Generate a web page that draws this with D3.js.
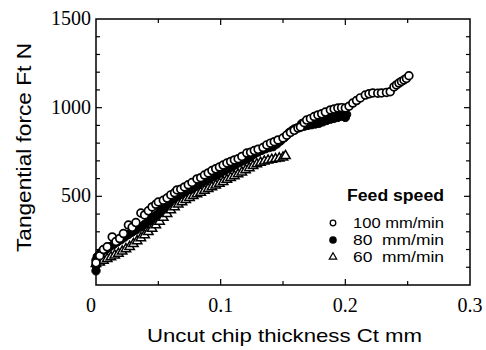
<!DOCTYPE html>
<html><head><meta charset="utf-8">
<script src="https://cdn.jsdelivr.net/npm/d3@7"></script>
<style>body{margin:0;background:#fff}svg{display:block}.serif{font-family:"Liberation Serif","Times New Roman",serif}</style>
</head><body>
<svg id="c" width="486" height="350"></svg>
<script>
// Series: 100 mm/min (open circles)
const x100 = [0.000,0.003,0.006,0.009,0.013,0.016,0.019,0.022,0.026,0.029,0.032,0.036,0.039,0.042,0.045,0.048,0.050,0.054,0.057,0.060,0.063,0.065,0.068,0.071,0.074,0.077,0.081,0.084,0.087,0.090,0.093,0.096,0.099,0.102,0.105,0.108,0.111,0.114,0.117,0.121,0.124,0.127,0.130,0.134,0.137,0.140,0.143,0.146,0.150,0.153,0.156,0.159,0.162,0.164,0.167,0.169,0.172,0.175,0.178,0.181,0.184,0.188,0.191,0.194,0.197,0.200,0.203,0.206,0.209,0.212,0.216,0.219,0.222,0.226,0.229,0.233,0.236,0.239,0.241,0.243,0.245,0.247,0.249,0.251];
const y100 = [125,165,200,215,271,245,262,290,338,325,352,406,395,418,440,455,468,478,490,508,520,536,540,553,565,578,598,605,620,632,645,655,665,676,688,696,705,712,725,744,748,758,765,775,790,800,808,818,829,845,860,872,885,891,915,930,938,950,959,965,975,987,992,998,1000,998,1008,1026,1040,1055,1071,1078,1083,1082,1083,1086,1090,1117,1128,1139,1148,1156,1165,1180];
// Series: 80 mm/min (filled circles)
const x80 = [0.000,0.000,0.000,0.001,0.003,0.005,0.008,0.011,0.014,0.017,0.020,0.023,0.026,0.029,0.032,0.036,0.039,0.042,0.045,0.048,0.051,0.054,0.057,0.060,0.063,0.066,0.069,0.072,0.076,0.079,0.082,0.085,0.088,0.091,0.094,0.097,0.100,0.103,0.106,0.109,0.112,0.115,0.118,0.121,0.124,0.127,0.130,0.133,0.136,0.139,0.142,0.145,0.148,0.151,0.153,0.155,0.157,0.159,0.161,0.164,0.165,0.167,0.170,0.172,0.173,0.176,0.179,0.180,0.182,0.185,0.185,0.188,0.190,0.191,0.194,0.196,0.197,0.199,0.200,0.201];
const y80 = [80,110,140,160,175,190,200,215,228,242,255,270,285,298,310,327,342,360,375,392,410,430,455,475,492,505,515,528,540,553,565,578,588,598,610,620,632,645,655,665,678,690,700,710,722,738,750,760,768,775,780,795,812,830,845,860,870,880,885,890,910,895,900,930,904,908,912,945,920,928,950,935,960,940,945,965,952,957,945,962];
// Series: 60 mm/min (open triangles)
const x60 = [0.000,0.003,0.006,0.009,0.012,0.015,0.018,0.021,0.024,0.027,0.030,0.033,0.036,0.039,0.042,0.045,0.048,0.051,0.054,0.057,0.060,0.063,0.066,0.069,0.072,0.075,0.078,0.081,0.084,0.087,0.090,0.093,0.096,0.099,0.102,0.105,0.108,0.111,0.114,0.117,0.120,0.123,0.126,0.129,0.132,0.135,0.138,0.141,0.144,0.147,0.150,0.152];
const y60 = [120,128,138,148,158,168,178,190,203,216,232,248,265,282,300,318,338,358,380,402,422,440,455,468,480,492,503,513,522,532,542,552,562,572,582,594,605,615,625,636,648,660,672,682,690,697,703,707,711,715,720,728];

const xTicks = [0, 0.1, 0.2, 0.3];
const xTickLabels = ["0", "0.1", "0.2", "0.3"];
const yTicks = [500, 1000, 1500];
const legendLabels = ["100 mm/min", "80  mm/min", "60  mm/min"];

const svg = d3.select("#c");
const L = 96, R = 470, T = 19, B = 285;
const x = d3.scaleLinear().domain([0, 0.3]).range([L, R]);
const y = d3.scaleLinear().domain([0, 1500]).range([B, T]);

const g = svg.append("g");
g.append("rect").attr("x", L).attr("y", T).attr("width", R - L).attr("height", B - T)
  .attr("fill", "none").attr("stroke", "#000").attr("stroke-width", 1.5);

const yMinor = d3.range(100, 1500, 100);
const xMinor = d3.range(0.05, 0.3, 0.05);
function tickLen(isMajor){ return isMajor ? 6 : 4; }
yMinor.forEach(v => {
  const maj = v % 500 === 0;
  g.append("line").attr("x1", L).attr("x2", L + tickLen(maj)).attr("y1", y(v)).attr("y2", y(v)).attr("stroke", "#000").attr("stroke-width", 1.2);
  g.append("line").attr("x1", R).attr("x2", R - tickLen(maj)).attr("y1", y(v)).attr("y2", y(v)).attr("stroke", "#000").attr("stroke-width", 1.2);
});
xMinor.forEach(v => {
  const maj = Math.abs(v * 10 - Math.round(v * 10)) < 1e-6;
  g.append("line").attr("x1", x(v)).attr("x2", x(v)).attr("y1", B).attr("y2", B - tickLen(maj)).attr("stroke", "#000").attr("stroke-width", 1.2);
  g.append("line").attr("x1", x(v)).attr("x2", x(v)).attr("y1", T).attr("y2", T + tickLen(maj)).attr("stroke", "#000").attr("stroke-width", 1.2);
});

const sans = "Arial, Liberation Sans, sans-serif";
g.selectAll(".xl").data(xTicks).enter().append("text").attr("class", "serif")
  .attr("x", (d, i) => x(d) + (i === 0 ? -5 : 0)).attr("y", 312)
  .attr("text-anchor", "middle").attr("font-size", 20)
  .text((d, i) => xTickLabels[i]);
g.selectAll(".yl").data(yTicks).enter().append("text").attr("class", "serif")
  .attr("x", L - 5).attr("y", d => y(d) + 6)
  .attr("text-anchor", "end").attr("font-size", 20)
  .text(d => d);

g.append("text").attr("x", 284.5).attr("y", 342).attr("text-anchor", "middle")
  .attr("font-family", sans).attr("font-size", 19)
  .attr("textLength", 275).attr("lengthAdjust", "spacingAndGlyphs")
  .text("Uncut chip thickness Ct mm");
g.append("text").attr("transform", "translate(31,147.5) rotate(-90)").attr("text-anchor", "middle")
  .attr("font-family", sans).attr("font-size", 21)
  .attr("textLength", 209).attr("lengthAdjust", "spacingAndGlyphs")
  .text("Tangential force Ft N");

const pts = (xs, ys) => xs.map((v, i) => [v, ys[i]]);
const tri = d3.symbol().type(d3.symbolTriangle).size(38);
g.selectAll(".t60").data(pts(x60, y60)).enter().append("path")
  .attr("d", tri).attr("transform", d => `translate(${x(d[0])},${y(d[1])})`)
  .attr("fill", "#fff").attr("stroke", "#000").attr("stroke-width", 1.5);
g.selectAll(".c80").data(pts(x80, y80)).enter().append("circle")
  .attr("cx", d => x(d[0])).attr("cy", d => y(d[1])).attr("r", 4.2)
  .attr("fill", "#000").attr("stroke", "#000").attr("stroke-width", 1);
g.selectAll(".c100").data(pts(x100, y100)).enter().append("circle")
  .attr("cx", d => x(d[0])).attr("cy", d => y(d[1])).attr("r", 3.9)
  .attr("fill", "#fff").attr("stroke", "#000").attr("stroke-width", 1.7);

g.append("text").attr("x", 347).attr("y", 201).attr("font-family", sans).attr("font-weight", "bold")
  .attr("font-size", 16).attr("textLength", 97).attr("lengthAdjust", "spacingAndGlyphs").text("Feed speed");
const ly = [223, 240, 257];
g.append("circle").attr("cx", 333).attr("cy", ly[0]).attr("r", 2.8).attr("fill", "#fff").attr("stroke", "#000").attr("stroke-width", 1.3);
g.append("circle").attr("cx", 333).attr("cy", ly[1]).attr("r", 3.8).attr("fill", "#000");
g.append("path").attr("d", d3.symbol().type(d3.symbolTriangle).size(24)).attr("transform", `translate(333,${ly[2]})`)
  .attr("fill", "#fff").attr("stroke", "#000").attr("stroke-width", 1.2);
g.selectAll(".lg").data(legendLabels).enter().append("text")
  .attr("x", 353).attr("y", (d, i) => ly[i] + 5).attr("font-family", sans).attr("font-size", 15)
  .attr("textLength", 91).attr("lengthAdjust", "spacingAndGlyphs")
  .attr("xml:space", "preserve").style("white-space", "pre").text(d => d);
</script>
</body></html>
